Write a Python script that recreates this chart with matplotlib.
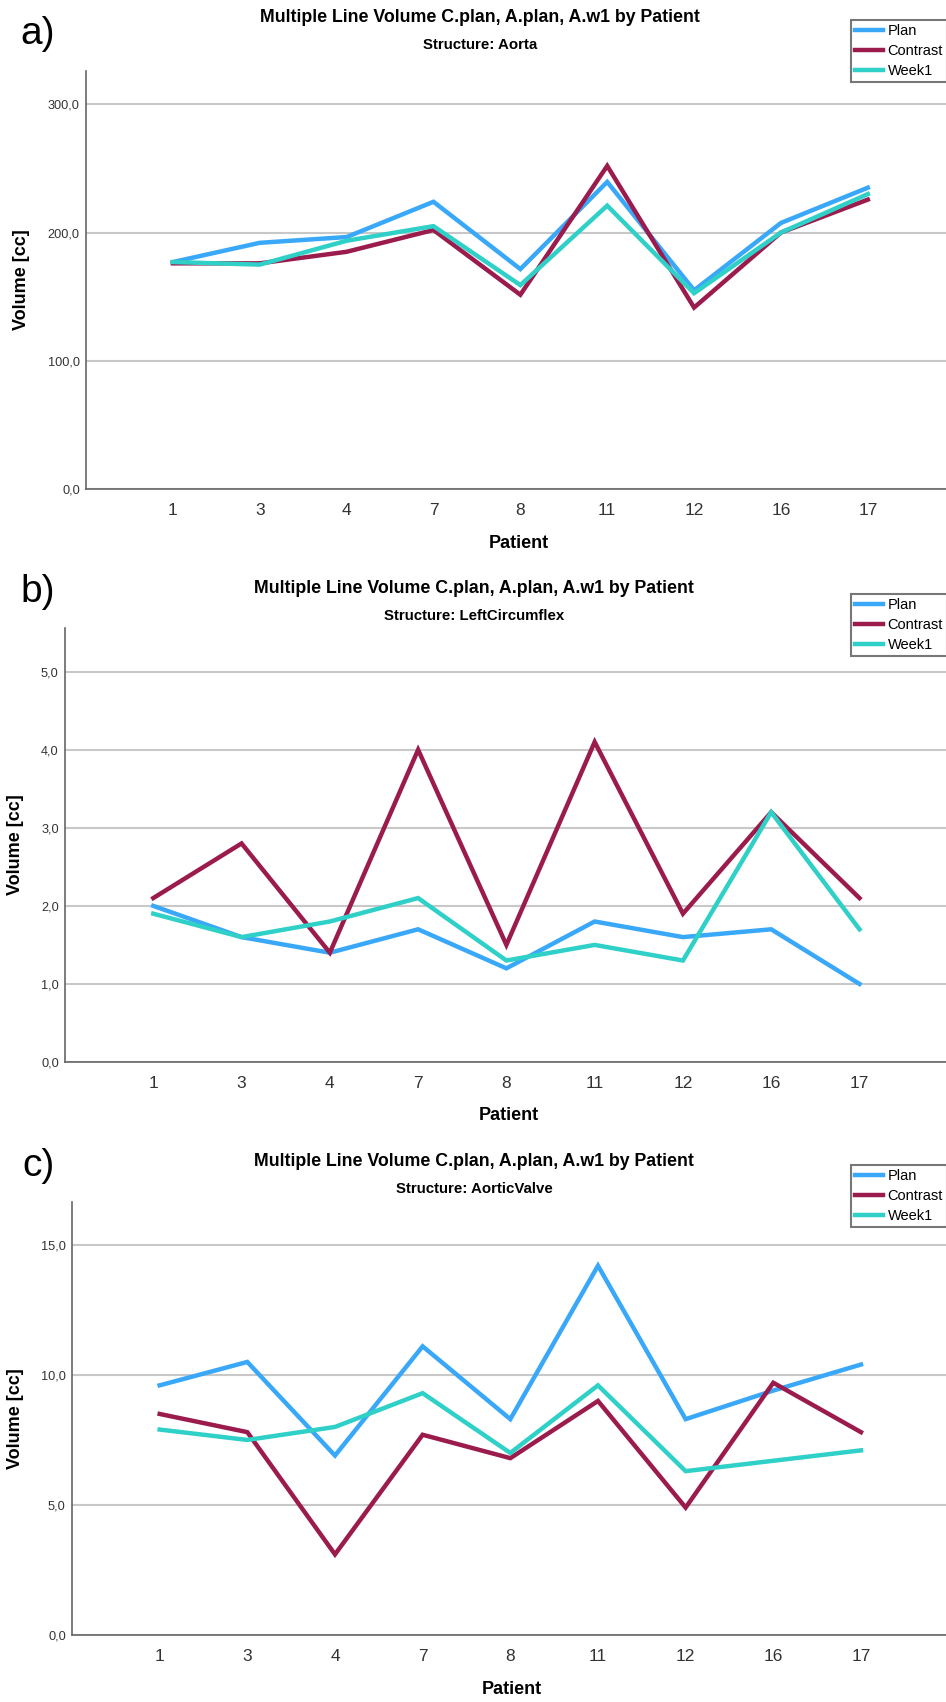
import matplotlib
matplotlib.use('Agg')
import matplotlib.pyplot as plt
from matplotlib.ticker import FuncFormatter

plt.rcParams['font.family'] = ['Liberation Sans', 'DejaVu Sans']

# 患者编号 (类别)
patients = ['1', '3', '4', '7', '8', '11', '12', '16', '17']
series_names = ['Plan', 'Contrast', 'Week1']
colors = ['#3aa8f8', '#9b1b4d', '#2fd0c7']

# a) Aorta
aorta_plan = [177, 192, 196.5, 224, 171.5, 239.5, 155, 207.5, 235]
aorta_contrast = [176, 176, 185, 202, 151.5, 252, 141.5, 200, 225.7]
aorta_week1 = [177, 175, 193.6, 205, 159, 221, 152.7, 200, 230]

# b) LeftCircumflex
lcx_plan = [2.0, 1.6, 1.4, 1.7, 1.2, 1.8, 1.6, 1.7, 1.0]
lcx_contrast = [2.1, 2.8, 1.4, 4.0, 1.5, 4.1, 1.9, 3.2, 2.1]
lcx_week1 = [1.9, 1.6, 1.8, 2.1, 1.3, 1.5, 1.3, 3.2, 1.7]

# c) AorticValve
av_plan = [9.6, 10.5, 6.9, 11.1, 8.3, 14.2, 8.3, 9.4, 10.4]
av_contrast = [8.5, 7.8, 3.1, 7.7, 6.8, 9.0, 4.9, 9.7, 7.8]
av_week1 = [7.9, 7.5, 8.0, 9.3, 7.0, 9.6, 6.3, 6.7, 7.1]

structures = ['Aorta', 'LeftCircumflex', 'AorticValve']
panel_tags = ['a)', 'b)', 'c)']
yticks_list = [[0, 100, 200, 300], [0, 1, 2, 3, 4, 5], [0, 5, 10, 15]]
data = [[aorta_plan, aorta_contrast, aorta_week1],
        [lcx_plan, lcx_contrast, lcx_week1],
        [av_plan, av_contrast, av_week1]]

W, H = 946, 1702
fig = plt.figure(figsize=(W / 100, H / 100), dpi=100)

# 每个面板的像素布局: 左, 上, 下, x上限, y上限, 标题x, 标题y, 图例上沿, 标签y, ylabel x
layout = [
    (86, 71, 489, 9.9, 326, 480, 17, 20, 34, 22),
    (65, 628, 1062, 9.98, 5.56, 474, 588, 594, 592, 16),
    (72, 1202, 1635, 9.97, 16.65, 474, 1161, 1165, 1166, 16),
]

fmt = FuncFormatter(lambda v, p: ('%.1f' % v).replace('.', ','))
x = list(range(1, len(patients) + 1))

for i in range(3):
    left, top, bottom, xmax, ymax, tx, ty, legtop, tagy, ylx = layout[i]
    ax = fig.add_axes([left / W, 1 - bottom / H, (W - left) / W, (bottom - top) / H])
    lines = []
    for vals, name, c in zip(data[i], series_names, colors):
        ln, = ax.plot(x, vals, color=c, lw=3.2, label=name, solid_joinstyle='miter')
        lines.append(ln)
    ax.set_xlim(0, xmax)
    ax.set_ylim(0, ymax)
    ax.set_xticks(x)
    ax.set_xticklabels(patients, fontsize=12.5, color='#333333')
    ax.set_yticks(yticks_list[i])
    ax.yaxis.set_major_formatter(fmt)
    ax.tick_params(axis='y', length=0, labelsize=9.2, pad=4.5, colors='#333333')
    ax.tick_params(axis='x', length=0, pad=10)
    ax.grid(axis='y', color='#c8c8c8', lw=1.5)
    ax.set_axisbelow(True)
    for s in ['top', 'right']:
        ax.spines[s].set_visible(False)
    for s in ['left', 'bottom']:
        ax.spines[s].set_color('#666666')
        ax.spines[s].set_linewidth(1.2)

    fig.text(tx / W, 1 - ty / H, 'Multiple Line Volume C.plan, A.plan, A.w1 by Patient',
             ha='center', va='center', fontsize=12.8, fontweight='bold')
    fig.text(tx / W, 1 - (ty + 28) / H, 'Structure: ' + structures[i],
             ha='center', va='center', fontsize=10.8, fontweight='bold')
    fig.text(38 / W, 1 - tagy / H, panel_tags[i], ha='center', va='center', fontsize=28)
    fig.text(ylx / W, 1 - (top + bottom) / 2 / H, 'Volume [cc]', rotation=90,
             ha='center', va='center', fontsize=13, fontweight='bold')
    fig.text(((left + W) / 2 + 3) / W, 1 - (bottom + 54) / H, 'Patient',
             ha='center', va='center', fontsize=13, fontweight='bold')

    leg = fig.legend(handles=lines, loc='upper left',
                     bbox_to_anchor=(851 / W, 1 - legtop / H), fontsize=10.5,
                     frameon=True, fancybox=False, handlelength=1.9, handletextpad=0.3,
                     labelspacing=0.4, borderpad=0.3, borderaxespad=0)
    leg.get_frame().set_edgecolor('#555555')
    leg.get_frame().set_linewidth(1.5)

fig.savefig('out.png', dpi=100)
